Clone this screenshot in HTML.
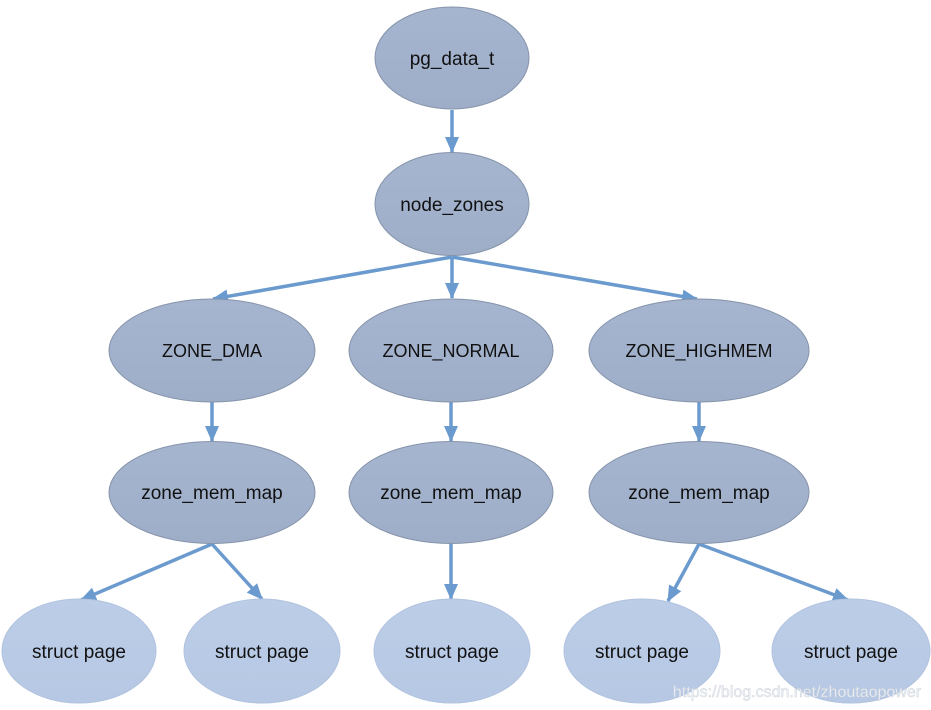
<!DOCTYPE html>
<html>
<head>
<meta charset="utf-8">
<style>
  html, body { margin: 0; padding: 0; background: #ffffff; }
  body { width: 931px; height: 710px; overflow: hidden; }
  svg { display: block; }
  text { font-family: "Liberation Sans", sans-serif; font-size: 19px; fill: #111111; text-anchor: middle; }
  text.caps { font-size: 18px; }
</style>
</head>
<body>
<svg width="931" height="710" viewBox="0 0 931 710" xmlns="http://www.w3.org/2000/svg">
  <defs>
    <marker id="ah" markerWidth="16" markerHeight="14" refX="15" refY="7" orient="auto" markerUnits="userSpaceOnUse">
      <path d="M0,0 L16,7 L0,14 Z" fill="#6b9ace"/>
    </marker>
    <linearGradient id="dark" x1="0" y1="0" x2="0" y2="1">
      <stop offset="0" stop-color="#a6b5cf"/>
      <stop offset="1" stop-color="#9eaec8"/>
    </linearGradient>
    <linearGradient id="light" x1="0" y1="0" x2="0" y2="1">
      <stop offset="0" stop-color="#bccde8"/>
      <stop offset="1" stop-color="#b6c8e3"/>
    </linearGradient>
  </defs>

  <!-- connectors -->
  <g stroke="#6b9ace" stroke-width="3.5" fill="none" marker-end="url(#ah)">
    <line x1="452" y1="110" x2="452" y2="152"/>
    <line x1="452" y1="257" x2="213" y2="299"/>
    <line x1="452" y1="257" x2="452" y2="298"/>
    <line x1="452" y1="257" x2="697" y2="299"/>
    <line x1="212" y1="402" x2="212" y2="441"/>
    <line x1="451" y1="402" x2="451" y2="441"/>
    <line x1="699" y1="402" x2="699" y2="441"/>
    <line x1="212" y1="544" x2="81" y2="600"/>
    <line x1="212" y1="544" x2="262" y2="599"/>
    <line x1="451" y1="544" x2="451" y2="599"/>
    <line x1="699" y1="544" x2="668" y2="601"/>
    <line x1="699" y1="544" x2="848" y2="600"/>
  </g>

  <!-- dark nodes -->
  <g fill="url(#dark)" stroke="#8593aa" stroke-width="1">
    <ellipse cx="452" cy="58" rx="77" ry="51"/>
    <ellipse cx="452" cy="204" rx="77" ry="51.5"/>
    <ellipse cx="212" cy="350.5" rx="103" ry="51.5"/>
    <ellipse cx="451" cy="350.5" rx="102" ry="51.5"/>
    <ellipse cx="699" cy="350.5" rx="110" ry="51.5"/>
    <ellipse cx="212" cy="492.5" rx="103" ry="51"/>
    <ellipse cx="451" cy="492.5" rx="102" ry="51"/>
    <ellipse cx="699" cy="492.5" rx="110" ry="51"/>
  </g>

  <!-- light nodes -->
  <g fill="url(#light)" stroke="#b0c2de" stroke-width="1">
    <ellipse cx="79" cy="651" rx="77" ry="52"/>
    <ellipse cx="262" cy="651" rx="78" ry="52"/>
    <ellipse cx="452" cy="651" rx="78" ry="52"/>
    <ellipse cx="642" cy="651" rx="78" ry="52"/>
    <ellipse cx="851" cy="651" rx="79" ry="52"/>
  </g>

  <!-- labels -->
  <text x="452" y="65">pg_data_t</text>
  <text x="452" y="211">node_zones</text>
  <text class="caps" x="212" y="357">ZONE_DMA</text>
  <text class="caps" x="451" y="357">ZONE_NORMAL</text>
  <text class="caps" x="699" y="357">ZONE_HIGHMEM</text>
  <text x="212" y="499">zone_mem_map</text>
  <text x="451" y="499">zone_mem_map</text>
  <text x="699" y="499">zone_mem_map</text>
  <text x="79" y="658">struct page</text>
  <text x="262" y="658">struct page</text>
  <text x="452" y="658">struct page</text>
  <text x="642" y="658">struct page</text>
  <text x="851" y="658">struct page</text>

  <!-- watermark -->
  <text x="797" y="697" style="font-size:16px; fill:#eef1f6; stroke:#c8cfd9; stroke-width:0.4">https://blog.csdn.net/zhoutaopower</text>
</svg>
</body>
</html>
